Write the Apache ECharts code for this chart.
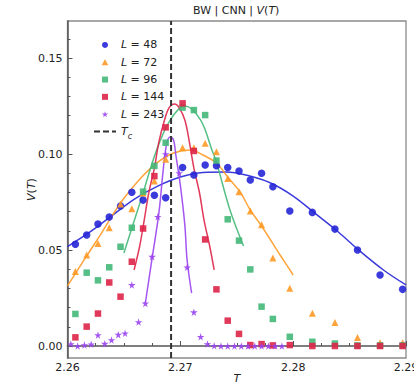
<!DOCTYPE html>
<html>
<head>
<meta charset="utf-8">
<script src="https://cdn.jsdelivr.net/npm/echarts@6/dist/echarts.min.js"></script>
<style>
html,body{margin:0;padding:0;background:#fff;}
#c{width:414px;height:388px;}
</style>
</head>
<body>
<div id="c"></div>
<script>
// ---- data ----
const titleText = 'BW | CNN | ';
const xTickLabels = ['2.26', '2.27', '2.28', '2.29'];
const yTickValues = [0.00, 0.05, 0.10, 0.15];
const yMinorValues = [0.01, 0.02, 0.03, 0.04, 0.06, 0.07, 0.08, 0.09, 0.11, 0.12, 0.13, 0.14, 0.16];
const xMin = 2.26, xMax = 2.29;
const yMin = -0.00625, yMax = 0.1693;
const Tc = 2.26918;

const tGrid = [2.2607,2.2617,2.2627,2.2637,2.2647,2.2657,2.2667,2.2677,2.2687,2.2702,2.2712,2.2722,2.2732,2.2742,2.2752,2.2762,2.2772,2.2782,2.2797,2.2817,2.2837,2.2857,2.2877,2.2897];
const vL48  = [0.0530,0.0578,0.0635,0.0672,0.0729,0.0801,0.0760,0.0785,0.0772,0.0930,0.0891,0.0943,0.0939,0.0930,0.0911,0.0865,0.0900,0.0830,0.0703,0.0696,0.0609,0.0500,0.0370,0.0295];
const vL72  = [0.0388,0.0474,0.0534,0.0616,0.0740,0.0715,0.0797,0.0859,0.0973,0.1033,0.1033,0.1056,0.1012,0.0873,0.0804,0.0703,0.0632,0.0458,0.0301,0.0170,0.0122,0.0044,0.0017,0.0017];
const vL96  = [0.0167,0.0382,0.0342,0.0410,0.0517,0.0616,0.0804,0.0938,0.1059,0.1242,0.1229,0.1203,0.0966,0.0660,0.0549,0.0399,0.0205,0.0141,0.0048,0.0022,0.0013,0.0003,0.0003,0.0003];
const vL144 = [0.0045,0.0101,0.0169,0.0331,0.0257,0.0439,0.0612,0.0885,0.1139,0.1264,0.1016,0.0555,0.0295,0.0132,0.0063,0.0005,0.0010,0.0003,0.0005,0.0000,0.0000,0.0000,0.0000,0.0000];
const tL243 = [2.2603,2.2609,2.2615,2.2621,2.2627,2.2633,2.2639,2.2645,2.2651,2.2657,2.2663,2.2669,2.2675,2.2680,2.2687,2.2699,2.2706,2.2712,2.2718,2.2724,2.2730,2.2736,2.2742,2.2748,2.2754,2.2760,2.2766,2.2772,2.2778,2.2784,2.2790];
const vL243 = [0.0010,0.0000,0.0005,0.0009,0.0057,0.0012,0.0031,0.0059,0.0066,0.0318,0.0125,0.0222,0.0465,0.0673,0.1000,0.0901,0.0410,0.0176,0.0048,0.0010,0.0001,0.0000,0.0000,0.0000,0.0000,0.0000,0.0000,0.0000,0.0000,0.0000,0.0000];

// fitted curves
const fitT48 = [2.260,2.262,2.264,2.266,2.268,2.270,2.272,2.274,2.276,2.278,2.280,2.282,2.284,2.286,2.288,2.290];
const fitV48 = [0.0518,0.0594,0.0682,0.0768,0.0833,0.0880,0.0904,0.0906,0.0888,0.0849,0.0781,0.0688,0.0594,0.0490,0.0396,0.0318];
const fitT72 = [2.2600,2.2617,2.2629,2.2647,2.2665,2.2679,2.2694,2.2709,2.2720,2.2732,2.2742,2.2753,2.2762,2.2772,2.2789,2.2800];
const fitV72 = [0.0313,0.0469,0.0578,0.0745,0.0875,0.0953,0.1005,0.1021,0.0995,0.0953,0.0880,0.0802,0.0708,0.0625,0.0469,0.0370];
const fitT96 = [2.2650,2.2665,2.2679,2.2691,2.2704,2.2718,2.2728,2.2732,2.2744,2.2756];
const fitV96 = [0.0484,0.0760,0.1021,0.1177,0.1250,0.1177,0.1021,0.0958,0.0708,0.0521];
const fitT144 = [2.2659,2.2664,2.2668,2.2672,2.2677,2.2681,2.2686,2.2690,2.2695,2.2699,2.2704,2.2708,2.2712,2.2717,2.2721,2.2726,2.2730];
const fitV144 = [0.0396,0.0521,0.0656,0.0797,0.0927,0.1063,0.1177,0.1240,0.1260,0.1240,0.1177,0.1063,0.0927,0.0797,0.0656,0.0521,0.0396];
const fitT243 = [2.2669,2.2675,2.2681,2.2685,2.2688,2.2691,2.2694,2.2696,2.2700,2.2704,2.2706,2.2710];
const fitV243 = [0.0224,0.0458,0.0693,0.0927,0.1057,0.1089,0.1073,0.0995,0.0838,0.0630,0.0448,0.0276];

const legendLabels = {L48:'48', L72:'72', L96:'96', L144:'144', L243:'243'};

// ---- styles ----
const FONT = 'DejaVu Sans';
const colors = {L48:'#2626d8', L72:'#ff9a26', L96:'#44b878', L144:'#dd2448', L243:'#9a44ee'};
const SYM_TRI = 'path://M5,0L10,9L0,9Z';
const SYM_SQ = 'path://M0,0L10,0L10,10L0,10Z';
const SYM_STAR = 'path://M50,0L61,35L98,35L68,57L79,91L50,70L21,91L32,57L2,35L39,35Z';
const SYM_DASH = 'path://M0,0H6V2H0Z M9,0H15V2H9Z M18,0H22V2H18Z';

const zip = (a, b) => a.map((x, i) => [x, b[i]]);

function scatter(name, t, v, symbol, size) {
  return {
    name, type: 'scatter', data: zip(t, v), symbol, symbolSize: size,
    itemStyle: {color: colors[name], opacity: 0.9}, z: 3,
    emphasis: {disabled: true}
  };
}
function fit(name, t, v) {
  return {
    name: name + '_fit', type: 'line', data: zip(t, v), showSymbol: false, symbol: 'none',
    smooth: 0.35, lineStyle: {color: colors[name], width: 1.5, opacity: 0.9}, z: 2,
    emphasis: {disabled: true}
  };
}

const chart = echarts.init(document.getElementById('c'), null, {renderer: 'svg'});
chart.setOption({
  animation: false,
  backgroundColor: '#fff',
  textStyle: {fontFamily: FONT},
  grid: {left: 67.5, right: 8, top: 21, bottom: 30, outerBoundsMode: 'none', containLabel: false,
    show: true, borderColor: '#8a8a8a', borderWidth: 1.3, backgroundColor: 'transparent'},
  graphic: [{
    type: 'text', left: 237 - 44, top: 5, z: 10,
    style: {
      text: titleText + '{i|V}({i|T})', fontFamily: FONT, fontSize: 11, fill: '#222',
      rich: {i: {fontStyle: 'italic', fontFamily: FONT, fontSize: 11, fill: '#222'}}
    }
  }],
  legend: {
    orient: 'vertical', left: 89, top: 31.3, itemWidth: 22, itemHeight: 6, itemGap: 0, itemTextGap: 9,
    selectedMode: false,
    data: [
      {name: 'L48', icon: 'circle'},
      {name: 'L72', icon: SYM_TRI},
      {name: 'L96', icon: SYM_SQ},
      {name: 'L144', icon: SYM_SQ},
      {name: 'L243', icon: SYM_STAR},
      {name: 'Tc', icon: SYM_DASH, itemStyle: {color: '#333'}}
    ],
    formatter: n => n === 'Tc' ? '{i|T}{s|c}' : '{i|L} = ' + legendLabels[n],
    textStyle: {
      fontFamily: FONT, fontSize: 11, color: '#222', lineHeight: 17.3,
      rich: {
        i: {fontStyle: 'italic', fontFamily: FONT, fontSize: 11, color: '#222', lineHeight: 17.3},
        s: {fontStyle: 'italic', fontFamily: FONT, fontSize: 8, color: '#222', verticalAlign: 'bottom', padding: [5, 0, 0, 0]}
      }
    }
  },
  xAxis: [{
    type: 'value', min: xMin, max: xMax, interval: 0.01,
    name: 'T', nameLocation: 'middle', nameGap: 15, nameMoveOverlap: false,
    nameTextStyle: {fontFamily: FONT, fontSize: 11, fontStyle: 'italic', color: '#222'},
    axisLine: {show: true, lineStyle: {color: '#555', width: 1.5}},
    axisTick: {show: true, inside: true, length: 5, lineStyle: {color: '#555', width: 1}},
    minorTick: {show: true, splitNumber: 4, length: 3, lineStyle: {color: '#555', width: 1}},
    axisLabel: {margin: 4, fontFamily: FONT, fontSize: 11, color: '#222',
      formatter: v => xTickLabels[Math.round((v - xMin) / 0.01)] || ''},
    splitLine: {show: false}
  }],
  yAxis: [{
    type: 'value', min: yMin, max: yMax,
    name: '{i|V}({i|T})', nameLocation: 'middle', nameGap: 31, nameRotate: 90, nameMoveOverlap: false,
    nameTextStyle: {fontFamily: FONT, fontSize: 11, color: '#222',
      rich: {i: {fontStyle: 'italic', fontFamily: FONT, fontSize: 11, color: '#222'}}},
    axisLine: {show: true, lineStyle: {color: '#555', width: 1.5}},
    axisTick: {show: true, inside: true, length: 5, customValues: yTickValues, lineStyle: {color: '#555', width: 1}},
    axisLabel: {margin: 5, fontFamily: FONT, fontSize: 11, color: '#222', customValues: yTickValues,
      formatter: v => v.toFixed(2)},
    splitLine: {show: false}
  }, {
    type: 'value', min: yMin, max: yMax, position: 'left', offset: 0,
    axisLine: {show: false},
    axisTick: {show: true, inside: true, length: 3, customValues: yMinorValues, lineStyle: {color: '#555', width: 1}},
    axisLabel: {show: false},
    splitLine: {show: false}
  }],
  series: [
    fit('L48', fitT48, fitV48),
    fit('L72', fitT72, fitV72),
    fit('L96', fitT96, fitV96),
    fit('L144', fitT144, fitV144),
    fit('L243', fitT243, fitV243),
    scatter('L48', tGrid, vL48, 'circle', 7.5),
    scatter('L72', tGrid, vL72, SYM_TRI, 7),
    scatter('L96', tGrid, vL96, SYM_SQ, 6.5),
    scatter('L144', tGrid, vL144, SYM_SQ, 6.5),
    scatter('L243', tL243, vL243, SYM_STAR, 7.5),
    {
      name: 'Tc', type: 'line', data: [[Tc, yMin], [Tc, yMax]], symbol: 'none', showSymbol: false,
      lineStyle: {color: '#333', width: 2, type: [6, 3]}, itemStyle: {color: '#333'}, z: 4,
      emphasis: {disabled: true}
    }
  ]
});
</script>
</body>
</html>
